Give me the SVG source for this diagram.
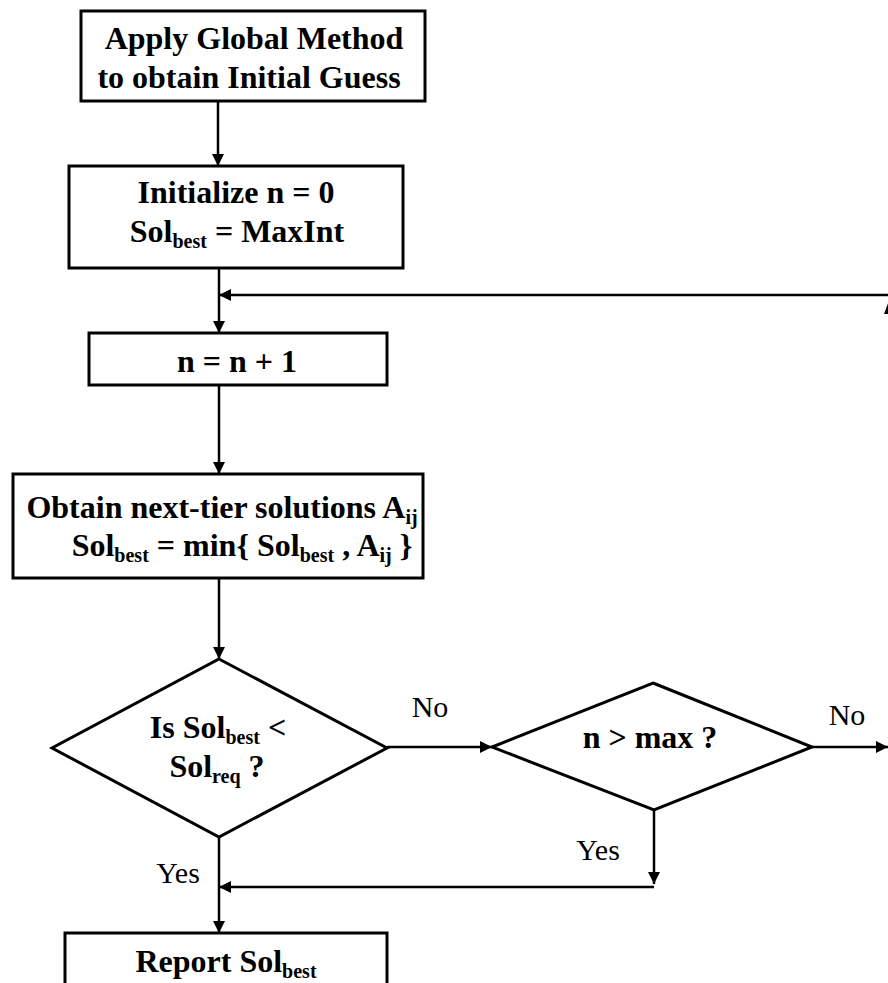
<svg xmlns="http://www.w3.org/2000/svg" width="888" height="983" viewBox="0 0 888 983">
  <style>
    .box { fill: #ffffff; stroke: #000000; stroke-width: 3; }
    .line { fill: none; stroke: #000000; stroke-width: 2.5; }
    text { font-family: "Liberation Serif", Tinos, "Times New Roman", Times, "DejaVu Serif", serif; fill: #000000; text-anchor: middle; }
    .t { font-weight: bold; font-size: 32px; }
    .lbl { font-size: 30px; }
    .sub { font-size: 20px; }
  </style>
  <defs>
    <marker id="arrow" viewBox="0 0 10 10" refX="10" refY="5" markerWidth="12" markerHeight="12" markerUnits="userSpaceOnUse" orient="auto">
      <path d="M0,0 L10,5 L0,10 Z" fill="#000000"/>
    </marker>
  </defs>

  <!-- connectors -->
  <g id="connectors">
    <line class="line" x1="218" y1="101" x2="218" y2="166" marker-end="url(#arrow)"/>
    <line class="line" x1="219" y1="268" x2="219" y2="333" marker-end="url(#arrow)"/>
    <line class="line" x1="888" y1="295" x2="219" y2="295" marker-end="url(#arrow)"/>
    <polygon points="884,314 890,298 896,314" fill="#000000"/>
    <line class="line" x1="219" y1="385" x2="219" y2="474" marker-end="url(#arrow)"/>
    <line class="line" x1="219" y1="578" x2="219" y2="659" marker-end="url(#arrow)"/>
    <line class="line" x1="387" y1="747" x2="492" y2="747" marker-end="url(#arrow)"/>
    <line class="line" x1="812" y1="747" x2="888" y2="747" marker-end="url(#arrow)"/>
    <line class="line" x1="654" y1="810" x2="654" y2="884" marker-end="url(#arrow)"/>
    <line class="line" x1="654" y1="887" x2="219" y2="887" marker-end="url(#arrow)"/>
    <line class="line" x1="219" y1="837" x2="219" y2="933" marker-end="url(#arrow)"/>
    <text class="lbl" x="430" y="717">No</text>
    <text class="lbl" x="847" y="725">No</text>
    <text class="lbl" x="598" y="860">Yes</text>
    <text class="lbl" x="178" y="883">Yes</text>
  </g>

  <g id="global-method">
    <rect class="box" x="81" y="11" width="344" height="90"/>
    <text class="t" x="254" y="49">Apply Global Method</text>
    <text class="t" x="249" y="88">to obtain Initial Guess</text>
  </g>

  <g id="initialize">
    <rect class="box" x="69" y="166" width="334" height="102"/>
    <text class="t" x="236" y="203">Initialize n = 0</text>
    <text class="t" x="237" y="242">Sol<tspan class="sub" dy="6">best</tspan><tspan dy="-6"> = MaxInt</tspan></text>
  </g>

  <g id="increment">
    <rect class="box" x="89" y="333" width="298" height="52"/>
    <text class="t" x="237" y="372">n = n + 1</text>
  </g>

  <g id="next-tier">
    <rect class="box" x="13" y="474" width="410" height="104"/>
    <text class="t" x="222" y="518">Obtain next-tier solutions A<tspan class="sub" dy="6">ij</tspan></text>
    <text class="t" x="242" y="556">Sol<tspan class="sub" dy="6">best</tspan><tspan dy="-6"> = min{ Sol</tspan><tspan class="sub" dy="6">best</tspan><tspan dy="-6"> , A</tspan><tspan class="sub" dy="6">ij</tspan><tspan dy="-6"> }</tspan></text>
  </g>

  <g id="check-required">
    <polygon class="box" points="219,659 387,748 219,837 52,748"/>
    <text class="t" x="218" y="738">Is Sol<tspan class="sub" dy="6">best</tspan><tspan dy="-6"> &lt;</tspan></text>
    <text class="t" x="217" y="777">Sol<tspan class="sub" dy="6">req</tspan><tspan dy="-6"> ?</tspan></text>
  </g>

  <g id="check-max">
    <polygon class="box" points="653,683 812,747 654,810 492,747"/>
    <text class="t" x="650" y="748">n &gt; max ?</text>
  </g>

  <g id="report">
    <rect class="box" x="65" y="933" width="322" height="60"/>
    <text class="t" x="226" y="972">Report Sol<tspan class="sub" dy="6">best</tspan></text>
  </g>
</svg>
